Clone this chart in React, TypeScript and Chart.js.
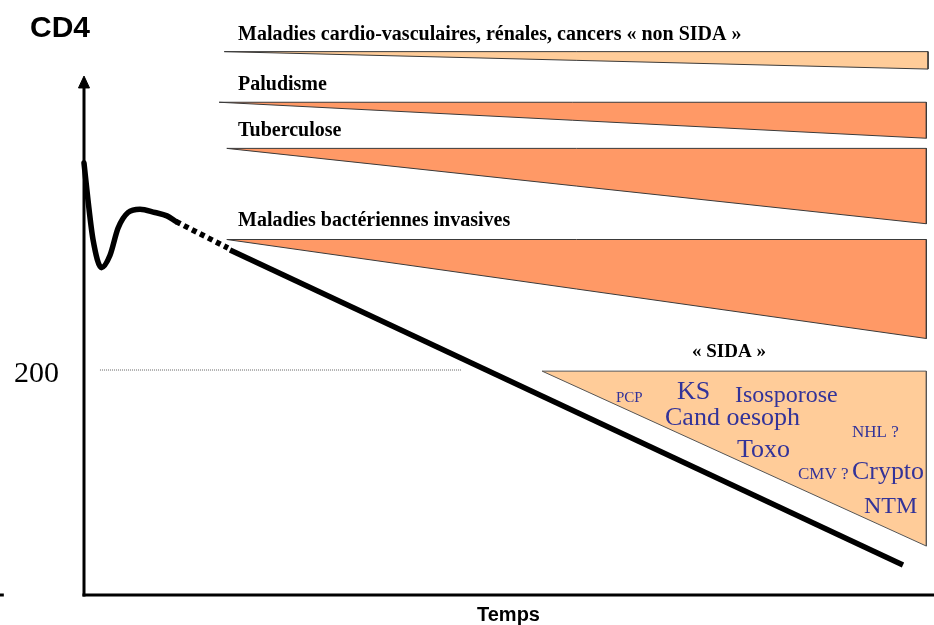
import React, { useEffect, useRef } from "react";
import { Chart, registerables } from "chart.js";

Chart.register(...registerables);

// ---- Scale extents (time units, CD4 cells/mm3) ----
const TIME_MIN = -84 / 8.5;
const TIME_MAX = 100;
const CD4_MIN = -30 / 1.125;
const CD4_MAX = 595 / 1.125;

// ---- CD4 trajectory ----
const curveTime = [0, 0.47, 1.06, 2.06, 3.06, 4.0, 5.18, 6.59, 8.35, 9.76, 10.82];
const curveCD4 = [384, 351, 316, 291, 302, 326, 340, 343, 340, 337, 332];
const dottedTime = [10.82, 16.94];
const dottedCD4 = [332, 308.4];
const declineTime = [17.18, 96.35];
const declineCD4 = [306.7, 26.7];

// ---- 200 threshold ----
const thresholdValue = 200;
const thresholdTime = [1.88, 44.35];

// ---- Risk bands (wedges) ----
const bandLabels = [
  "Maladies cardio-vasculaires, rénales, cancers « non SIDA »",
  "Paludisme",
  "Tuberculose",
  "Maladies bactériennes invasives",
];
const bandStart = [16.5, 15.9, 16.8, 16.8];
const bandEnd = [99.3, 99.1, 99.1, 99.1];
const bandTop = [483, 438, 397, 316];
const bandBottom = [467.5, 406, 330, 228];

// ---- SIDA wedge ----
const sidaLabel = "« SIDA »";
const sidaStart = 53.9;
const sidaEnd = 99.1;
const sidaTop = 199;
const sidaBottom = 43.5;
const sidaDiseases = ["PCP", "KS", "Isosporose", "Cand oesoph", "NHL ?", "Toxo", "CMV ?", "Crypto", "NTM"];

// ---- Axis ----
const yAxisTitle = "CD4";
const xAxisTitle = "Temps";
const yTickLabel = "200";

// ---- Layout of text (pixel positions, sizes) kept apart from data ----
const bandLabelLayout = [
  { x: 238, y: 40, size: 20, maxW: 540 },
  { x: 238, y: 90, size: 20, maxW: 92 },
  { x: 238, y: 136, size: 20, maxW: 112 },
  { x: 238, y: 226, size: 20, maxW: 289 },
];
const sidaLabelLayout = { x: 692, y: 357, size: 19, maxW: 82 };
const diseaseLayout = [
  { x: 616, y: 402, size: 15, maxW: 28 },
  { x: 677, y: 399, size: 26, maxW: 34 },
  { x: 735, y: 402, size: 24, maxW: 104 },
  { x: 665, y: 425, size: 26, maxW: 138 },
  { x: 852, y: 437, size: 17, maxW: 48 },
  { x: 737, y: 457, size: 26, maxW: 55 },
  { x: 798, y: 479, size: 17, maxW: 51 },
  { x: 852, y: 479, size: 26, maxW: 72 },
  { x: 864, y: 513, size: 24, maxW: 54 },
];

const ORANGE = "#FF9966";
const PEACH = "#FFCC99";
const EDGE = "#3a3a3a";
const BLUE = "#333399";

function wedge(t0: number, t1: number, top: number, bottom: number) {
  return [
    { x: t0, y: top },
    { x: t1, y: top },
    { x: t1, y: bottom },
    { x: t0, y: top },
  ];
}

function zip(xs: number[], ys: number[]) {
  return xs.map((x, i) => ({ x, y: ys[i] }));
}

const textPlugin = {
  id: "diagramText",
  afterDraw(chart: any) {
    const ctx = chart.ctx as CanvasRenderingContext2D;
    ctx.save();
    ctx.textBaseline = "alphabetic";
    ctx.textAlign = "left";
    // axis title
    ctx.fillStyle = "#000";
    ctx.font = "bold 30px 'Liberation Sans', Arial, sans-serif";
    ctx.fillText(yAxisTitle, 30, 37, 64);
    ctx.font = "bold 20px 'Liberation Sans', Arial, sans-serif";
    ctx.fillText(xAxisTitle, 477, 621, 67);
    ctx.font = "30px 'Liberation Serif', 'Times New Roman', serif";
    ctx.fillText(yTickLabel, 14, 382, 47);
    // band labels
    bandLabels.forEach((label, i) => {
      const l = bandLabelLayout[i];
      ctx.font = `bold ${l.size}px 'Liberation Serif', 'Times New Roman', serif`;
      ctx.fillText(label, l.x, l.y, l.maxW);
    });
    ctx.font = `bold ${sidaLabelLayout.size}px 'Liberation Serif', 'Times New Roman', serif`;
    ctx.fillText(sidaLabel, sidaLabelLayout.x, sidaLabelLayout.y, sidaLabelLayout.maxW);
    // diseases
    ctx.fillStyle = BLUE;
    sidaDiseases.forEach((label, i) => {
      const l = diseaseLayout[i];
      ctx.font = `${l.size}px 'Liberation Serif', 'Times New Roman', serif`;
      ctx.fillText(label, l.x, l.y, l.maxW);
    });
    ctx.restore();
  },
};

export default function App() {
  const ref = useRef<HTMLCanvasElement | null>(null);

  useEffect(() => {
    if (!ref.current) return;
    const arrowHalf = 0.65;
    const arrowBase = 450.7;
    const arrowTip = 461.3;

    const datasets: any[] = [
      {
        data: zip(curveTime, curveCD4),
        borderColor: "#000",
        borderWidth: 5.5,
        cubicInterpolationMode: "monotone",
        tension: 0.4,
        fill: false,
        borderCapStyle: "round",
      },
      {
        data: zip(dottedTime, dottedCD4),
        borderColor: "#000",
        borderWidth: 5.5,
        borderDash: [5, 4],
        fill: false,
      },
      {
        data: zip(declineTime, declineCD4),
        borderColor: "#000",
        borderWidth: 5.5,
        fill: false,
      },
      // y axis
      {
        data: [
          { x: 0, y: -1.4 },
          { x: 0, y: arrowBase + 1 },
        ],
        borderColor: "#000",
        borderWidth: 3,
        fill: false,
      },
      {
        data: [
          { x: -arrowHalf, y: arrowBase },
          { x: 0, y: arrowTip },
          { x: arrowHalf, y: arrowBase },
          { x: -arrowHalf, y: arrowBase },
        ],
        borderColor: "#000",
        backgroundColor: "#000",
        borderWidth: 1,
        fill: "shape",
      },
      // x axis
      {
        data: [
          { x: -0.18, y: 0 },
          { x: TIME_MAX, y: 0 },
        ],
        borderColor: "#000",
        borderWidth: 3,
        fill: false,
      },
      {
        data: [
          { x: TIME_MIN, y: 0 },
          { x: TIME_MIN + 0.45, y: 0 },
        ],
        borderColor: "#000",
        borderWidth: 3,
        fill: false,
      },
      // 200 threshold
      {
        data: [
          { x: thresholdTime[0], y: thresholdValue },
          { x: thresholdTime[1], y: thresholdValue },
        ],
        borderColor: "#666",
        borderWidth: 1,
        borderDash: [1, 1],
        fill: false,
      },
      // SIDA wedge
      {
        data: wedge(sidaStart, sidaEnd, sidaTop, sidaBottom),
        borderColor: "#555",
        backgroundColor: PEACH,
        borderWidth: 1,
        fill: "shape",
      },
      // risk bands
      ...bandLabels.map((_, i) => ({
        data: wedge(bandStart[i], bandEnd[i], bandTop[i], bandBottom[i]),
        borderColor: EDGE,
        backgroundColor: i === 0 ? PEACH : ORANGE,
        borderWidth: 1,
        fill: "shape",
      })),
    ];

    const chart = new Chart(ref.current, {
      type: "line",
      data: { datasets },
      options: {
        responsive: false,
        animation: false,
        parsing: true as any,
        layout: { padding: 0 },
        elements: { point: { radius: 0, hoverRadius: 0 }, line: { tension: 0 } },
        plugins: {
          legend: { display: false },
          tooltip: { enabled: false },
          title: { display: false },
        },
        events: [],
        scales: {
          x: { type: "linear", min: TIME_MIN, max: TIME_MAX, display: false },
          y: { type: "linear", min: CD4_MIN, max: CD4_MAX, display: false },
        },
      },
      plugins: [textPlugin],
    });
    return () => chart.destroy();
  }, []);

  return (
    <div
      style={{
        position: "fixed",
        left: 0,
        top: 0,
        width: 934,
        height: 625,
        background: "#fff",
      }}
    >
      <canvas ref={ref} width={934} height={625} style={{ display: "block" }} />
    </div>
  );
}
